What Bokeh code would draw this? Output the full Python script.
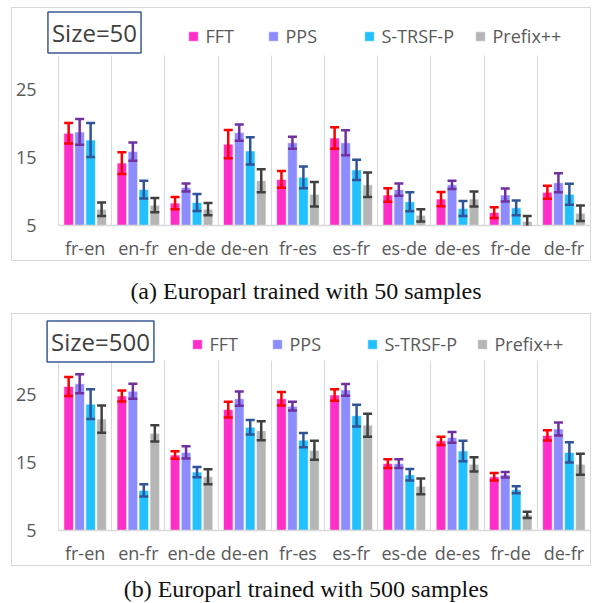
from bokeh.plotting import figure
from bokeh.models import (ColumnDataSource, Whisker, TeeHead, FixedTicker, Legend,
                          LegendItem, Label, Div, Range1d, Grid)
from bokeh.layouts import column
from bokeh.embed import file_html
from bokeh.resources import INLINE

categories = ["fr-en", "en-fr", "en-de", "de-en", "fr-es", "es-fr", "es-de", "de-es", "fr-de", "de-fr"]
series = ["FFT", "PPS", "S-TRSF-P", "Prefix++"]
y_ticks = [5, 15, 25]
y_min, y_max = 5, 30

# Size = 50
fft_50 = [18.6, 14.2, 8.3, 17.0, 11.8, 17.9, 9.5, 8.9, 6.9, 9.9]
fft_50_err = [1.5, 1.6, 0.9, 2.1, 1.25, 1.6, 1.0, 1.05, 0.8, 0.95]
pps_50 = [18.8, 15.9, 10.6, 18.7, 17.2, 17.2, 10.3, 11.0, 9.5, 11.3]
pps_50_err = [1.9, 1.35, 0.6, 1.2, 0.9, 1.85, 0.9, 0.6, 0.95, 1.4]
strsf_50 = [17.6, 10.3, 8.4, 16.0, 12.1, 13.2, 8.5, 7.5, 7.6, 9.6]
strsf_50_err = [2.5, 1.3, 1.25, 2.0, 1.6, 1.5, 1.4, 1.1, 1.1, 1.55]
prefix_50 = [7.4, 8.0, 7.4, 11.6, 9.6, 11.0, 6.5, 8.9, 5.6, 6.8]
prefix_50_err = [1.0, 1.05, 0.9, 1.7, 1.8, 1.8, 0.9, 1.1, 0.8, 1.15]

# Size = 500
fft_500 = [26.2, 24.8, 16.1, 22.8, 24.4, 24.95, 14.85, 18.2, 12.9, 19.0]
fft_500_err = [1.4, 0.8, 0.55, 1.15, 1.0, 0.85, 0.65, 0.6, 0.55, 0.75]
pps_500 = [26.6, 25.5, 16.5, 24.4, 23.3, 25.7, 14.85, 18.7, 13.2, 19.95]
pps_500_err = [1.4, 1.1, 0.9, 1.05, 0.65, 0.85, 0.65, 0.8, 0.4, 0.95]
strsf_500 = [23.6, 10.9, 13.6, 20.2, 18.3, 21.9, 13.2, 16.7, 11.0, 16.5]
strsf_500_err = [2.2, 0.9, 0.75, 1.05, 1.05, 1.6, 0.85, 1.5, 0.5, 1.5]
prefix_500 = [21.4, 19.3, 12.9, 19.7, 16.8, 20.5, 11.5, 14.75, 7.3, 14.75]
prefix_500_err = [2.0, 1.2, 1.1, 1.4, 1.4, 1.7, 1.15, 1.05, 0.45, 1.55]

captions = ["(a) Europarl trained with 50 samples", "(b) Europarl trained with 500 samples"]
size_labels = ["Size=50", "Size=500"]

fill_colors = ["#FF2EC8", "#8C8CFF", "#22C0FF", "#B5B5B5"]
err_colors = ["#FF0000", "#7030A0", "#2F5597", "#404040"]
offsets = [-0.31, -0.103, 0.103, 0.31]

TICK_FONT = "Open Sans"
TXT = "#595959"
GRID = "#D9D9D9"
FRAME_LEFT = 44.5   # page x of the frame's left edge
X_PAD = 0.264       # room left of the first category for the size box


def make_panel(vals, errs, size_label, frame_h, px_per_unit, bottom, legend_x, legend_vy, size_box):
    n = len(categories)
    top_val = y_min + frame_h / px_per_unit
    p = figure(width=578, height=frame_h + bottom, output_backend="svg", title=None,
               toolbar_location=None, x_range=Range1d(-X_PAD, n), y_range=Range1d(y_min, top_val),
               min_border_left=32, min_border_right=2, min_border_top=0,
               min_border_bottom=bottom)
    p.outline_line_color = None
    p.background_fill_color = "white"
    p.border_fill_color = "white"
    p.styles = {"border": "1.5px solid #D9D9D9", "box-sizing": "content-box"}

    renderers = []
    for k in range(len(series)):
        xs = [i + 0.5 + offsets[k] for i in range(n)]
        src = ColumnDataSource(dict(x=xs, top=vals[k],
                                    lo=[v - e for v, e in zip(vals[k], errs[k])],
                                    up=[v + e for v, e in zip(vals[k], errs[k])]))
        r = p.vbar(x="x", top="top", bottom=y_min, width=0.18, source=src,
                   fill_color=fill_colors[k], line_color="white", line_alpha=0.6, line_width=1)
        renderers.append(r)
        w = Whisker(base="x", upper="up", lower="lo", source=src, level="annotation",
                    line_color=err_colors[k], line_width=2.5,
                    upper_head=TeeHead(size=9, line_color=err_colors[k], line_width=2.5),
                    lower_head=TeeHead(size=9, line_color=err_colors[k], line_width=2.5))
        p.add_layout(w)

    p.xaxis.ticker = FixedTicker(ticks=[i + 0.5 for i in range(n)])
    p.xaxis.major_label_overrides = {i + 0.5: c for i, c in enumerate(categories)}
    p.xaxis.bounds = (0, n)
    p.xaxis.axis_line_color = GRID
    p.xaxis.axis_line_width = 1.5
    p.xaxis.major_tick_line_color = None
    p.xaxis.minor_tick_line_color = None
    p.xaxis.major_label_text_font = TICK_FONT
    p.xaxis.major_label_text_font_size = "18px"
    p.xaxis.major_label_text_color = TXT
    p.xaxis.major_label_standoff = 4

    p.yaxis.ticker = FixedTicker(ticks=y_ticks)
    p.yaxis.axis_line_color = None
    p.yaxis.major_tick_line_color = None
    p.yaxis.major_tick_out = 0
    p.yaxis.minor_tick_line_color = None
    p.yaxis.major_label_text_font = TICK_FONT
    p.yaxis.major_label_text_font_size = "18px"
    p.yaxis.major_label_text_color = TXT
    p.yaxis.major_label_standoff = 8

    p.ygrid.grid_line_color = None
    if "cross_bounds" in Grid.properties():
        p.xgrid.ticker = FixedTicker(ticks=list(range(n + 1)))
        p.xgrid.grid_line_color = GRID
        p.xgrid.grid_line_width = 1
        p.xgrid.cross_bounds = (y_min, y_max)
    else:
        p.xgrid.grid_line_color = None
        gx = list(range(n + 1))
        p.segment(x0=gx, x1=gx, y0=[y_min] * len(gx), y1=[y_max] * len(gx),
                  line_color=GRID, line_width=1, level="underlay")

    for k in range(len(series)):
        lg = Legend(items=[LegendItem(label=series[k], renderers=[renderers[k]])],
                    location=(legend_x[k], legend_vy),
                    orientation="horizontal", padding=0, margin=0, spacing=0,
                    glyph_width=12, glyph_height=12, label_standoff=7,
                    label_text_font=TICK_FONT, label_text_font_size="18px",
                    label_text_color=TXT, border_line_color=None,
                    background_fill_alpha=0)
        p.add_layout(lg)

    bx, by = size_box
    p.add_layout(Label(x=bx, y=by, x_units="screen", y_units="screen",
                       text=size_label, text_align="center", text_baseline="middle",
                       text_font=TICK_FONT, text_font_size="24px", text_color="#404040",
                       border_line_color="#3A5A92", border_line_width=1.5,
                       background_fill_color="white", padding=4))
    return p


def lx(xs):
    return [x - FRAME_LEFT - 1 for x in xs]


p1 = make_panel([fft_50, pps_50, strsf_50, prefix_50],
                [fft_50_err, pps_50_err, strsf_50_err, prefix_50_err],
                size_labels[0], 216, 6.75, 36,
                lx([188, 268, 364, 475]), 177, (94.5 - FRAME_LEFT, 193))
p1.margin = (7, 0, 0, 11)
p2 = make_panel([fft_500, pps_500, strsf_500, prefix_500],
                [fft_500_err, pps_500_err, strsf_500_err, prefix_500_err],
                size_labels[1], 214, 6.73, 37,
                lx([192, 272, 367, 477]), 174, (100.5 - FRAME_LEFT, 189))
p2.margin = (0, 0, 0, 11)

cap_style = {"font-family": "'Liberation Serif', serif", "font-size": "24px",
             "color": "#111111", "text-align": "center"}
d1 = Div(text=captions[0], width=572, height=40, margin=(10, 0, 2, 20),
         styles=dict(cap_style, **{"line-height": "40px"}))
d2 = Div(text=captions[1], width=572, height=2, margin=(22, 0, 0, 20),
         styles=dict(cap_style, **{"line-height": "2px"}))

layout = column(p1, d1, p2, d2, spacing=0)
open("out.html", "w").write(file_html(layout, INLINE))
